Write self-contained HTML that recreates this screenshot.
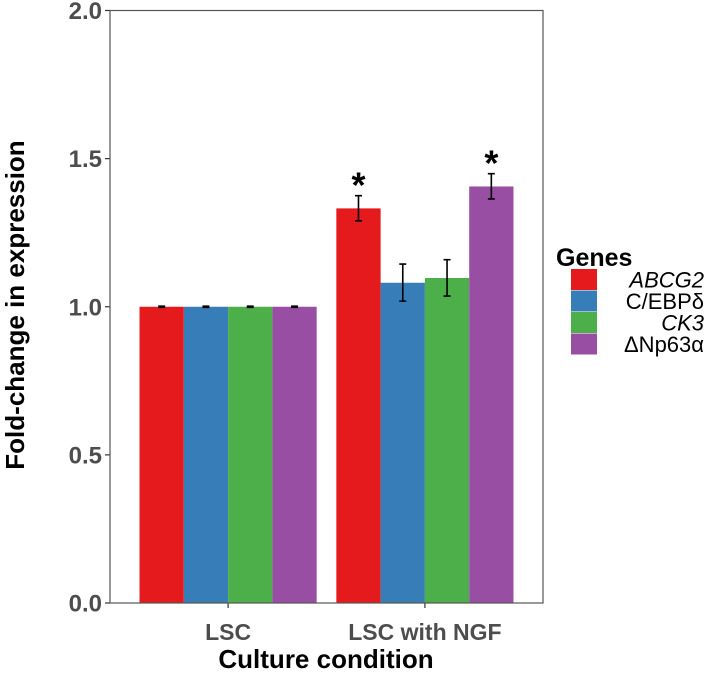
<!DOCTYPE html>
<html><head><meta charset="utf-8"><style>
body{margin:0;background:#fff}
svg{display:block;font-family:"Liberation Sans",sans-serif}
</style></head><body>
<svg width="709" height="678" viewBox="0 0 709 678">
<g id="plot"></g>
<text x="24" y="305" transform="rotate(-90 24 305)" text-anchor="middle" font-size="26" font-weight="bold" fill="#000">Fold-change in expression</text>
<text x="326" y="668" text-anchor="middle" font-size="26" font-weight="bold" fill="#000">Culture condition</text>
<g>
<text x="556" y="266" font-size="25" font-weight="bold">Genes</text>
<g id="legend"></g>
</g>
</svg>
<script>
const categories=["LSC","LSC with NGF"];
const genes=["ABCG2","C/EBPδ","CK3","ΔNp63α"];
const italicGenes=[true,false,true,false];
const colors=["#e41a1c","#377eb8","#4daf4a","#984ea3"];
const valuesLSC=[1,1,1,1];
const valuesNGF=[1.332,1.081,1.097,1.406];
const errLowLSC=[0.998,0.998,0.998,0.998];
const errHighLSC=[1.002,1.002,1.002,1.002];
const errLowNGF=[1.290,1.019,1.036,1.364];
const errHighNGF=[1.375,1.144,1.159,1.449];
const significantNGF=[true,false,false,true];
const yTicks=[0,0.5,1,1.5,2];
const yTickLabels=["0.0","0.5","1.0","1.5","2.0"];

const NS="http://www.w3.org/2000/svg";
const L=110,R=543,T=10.5,B=603,yMax=2;
const y=v=>B-(v/yMax)*(B-T);
const unit=(R-L)/(categories.length-1+1.2);
const groupCenter=i=>L+unit*(0.6+i);
const barW=unit*0.9/genes.length;
const barX=(g,k)=>groupCenter(g)-2*barW+k*barW;
const plot=document.getElementById('plot');
function mk(tag,attrs,parent){const e=document.createElementNS(NS,tag);for(const a in attrs)e.setAttribute(a,attrs[a]);(parent||plot).appendChild(e);return e;}

const vals=[valuesLSC,valuesNGF],lo=[errLowLSC,errLowNGF],hi=[errHighLSC,errHighNGF];
categories.forEach((c,g)=>{
  genes.forEach((gn,k)=>{
    const r=mk('rect',{x:barX(g,k),y:y(vals[g][k]),width:barW,height:B-y(vals[g][k]),fill:colors[k]});
    
    
    const cx=barX(g,k)+barW/2;
    const eb=mk('path',{d:`M${cx-3.5},${y(hi[g][k])}H${cx+3.5}M${cx},${y(hi[g][k])}V${y(lo[g][k])}M${cx-3.5},${y(lo[g][k])}H${cx+3.5}`,stroke:'#000','stroke-width':1.6,fill:'none'});
    
    
    if(g===1&&significantNGF[k]){
      const s=mk('text',{x:cx,y:y(hi[g][k])+2,'text-anchor':'middle','font-size':36,'font-weight':'bold'});
      s.textContent='*';
      
      
    }
  });
  mk('line',{x1:groupCenter(g),x2:groupCenter(g),y1:B,y2:B+5,stroke:'#333','stroke-width':1.2});
  const lb=mk('text',{x:groupCenter(g),y:640,'text-anchor':'middle','font-size':23,'font-weight':'bold',fill:'#4d4d4d'});
  lb.textContent=c;
  
  
});
yTicks.forEach((v,i)=>{
  mk('line',{x1:L-5,x2:L,y1:y(v),y2:y(v),stroke:'#333','stroke-width':1.2});
  const t=mk('text',{x:L-8,y:y(v)+8.5,'text-anchor':'end','font-size':24,'font-weight':'bold',fill:'#4d4d4d'});
  t.textContent=yTickLabels[i];
  
  
});
const frame=mk('rect',{x:L,y:T,width:R-L,height:B-T,fill:'none',stroke:'#555','stroke-width':1.2});



const lg=document.getElementById('legend');
genes.forEach((gn,k)=>{
  const ky=269+k*21.5;
  const r=mk('rect',{x:571,y:ky,width:26,height:21,fill:colors[k]},lg);
  
  
  const t=mk('text',{x:704,y:ky+18.5,'text-anchor':'end','font-size':22,'font-style':italicGenes[k]?'italic':'normal'},lg);
  t.textContent=gn;
  
  
});
</script>
</body></html>
